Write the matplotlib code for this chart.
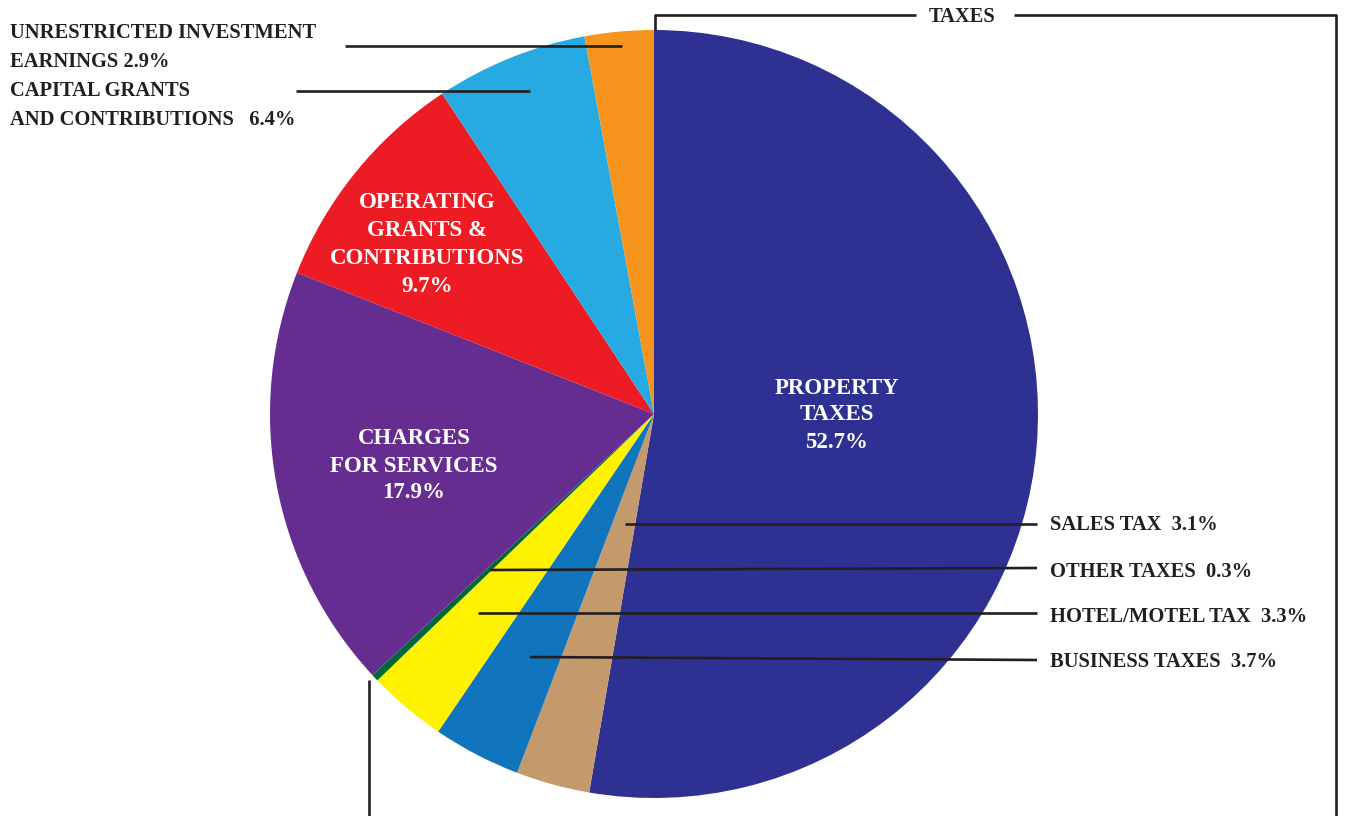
import matplotlib
matplotlib.use("Agg")
import matplotlib.pyplot as plt

# ---- data ----
categories = ["Property Taxes", "Sales Tax", "Business Taxes", "Hotel/Motel Tax",
              "Other Taxes", "Charges for Services", "Operating Grants & Contributions",
              "Capital Grants and Contributions", "Unrestricted Investment Earnings"]
values = [52.7, 3.1, 3.7, 3.3, 0.3, 17.9, 9.7, 6.4, 2.9]
colors = ["#2E3192", "#C49A6C", "#1075BC", "#FFF200", "#006838",
          "#662D91", "#ED1C24", "#27AAE1", "#F7941D"]

W, H = 1347, 816
fig = plt.figure(figsize=(W / 100, H / 100), dpi=100)
ax = fig.add_axes([0, 0, 1, 1])

def Y(y):
    return H - y

CX, CY, R = 654, 414, 384
ax.pie(values, colors=colors, startangle=90, counterclock=False,
       center=(CX, Y(CY)), radius=R, wedgeprops=dict(linewidth=0))
ax.set_xlim(0, W)
ax.set_ylim(0, H)
ax.set_aspect("equal")
ax.axis("off")

FONT = "Liberation Serif"
DARK = "#231F20"
FS_OUT = 14.8
FS_IN = 16.5
LW = 1.9

def line(xs, ys):
    ax.plot(xs, [Y(v) for v in ys], color=DARK, lw=LW, solid_capstyle="butt", zorder=5)

def txt(x, y, s, color=DARK, ha="left", fs=FS_OUT):
    ax.text(x, Y(y), s, color=color, ha=ha, va="center", fontsize=fs,
            fontweight="bold", family=FONT, zorder=6)

def fmt(v):
    return f"{v:.1f}%"

# inside labels
for i, yy in enumerate([388, 415, 443]):
    txt(837, yy, ["PROPERTY", "TAXES", fmt(values[0])][i], color="white", ha="center", fs=FS_IN)
for i, yy in enumerate([202, 230, 258, 287]):
    txt(427, yy, ["OPERATING", "GRANTS &", "CONTRIBUTIONS", fmt(values[6])][i],
        color="white", ha="center", fs=FS_IN)
for i, yy in enumerate([439, 466, 493]):
    txt(414, yy, ["CHARGES", "FOR SERVICES", fmt(values[5])][i], color="white",
        ha="center", fs=FS_IN)

# top-left labels
txt(10, 33, "UNRESTRICTED INVESTMENT")
txt(10, 62, f"EARNINGS {fmt(values[8])}")
txt(10, 91, "CAPITAL GRANTS")
txt(10, 120, f"AND CONTRIBUTIONS   {fmt(values[7])}")
line([345, 622], [46, 46])
line([296, 530], [91, 91])

# right labels
txt(1050, 525, f"SALES TAX  {fmt(values[1])}")
txt(1050, 572, f"OTHER TAXES  {fmt(values[4])}")
txt(1050, 617, f"HOTEL/MOTEL TAX  {fmt(values[3])}")
txt(1050, 662, f"BUSINESS TAXES  {fmt(values[2])}")
line([625, 1037], [524, 524])
line([490, 1037], [570, 568])
line([478, 1037], [613, 613])
line([530, 1037], [657, 660])

# TAXES bracket
line([655, 655, 916], [30, 15, 15])
line([1014, 1336, 1336], [15, 15, H + 5])
line([369, 369], [680, H + 5])
txt(962, 17, "TAXES", ha="center")

fig.savefig("out.png", dpi=100, facecolor="white")
